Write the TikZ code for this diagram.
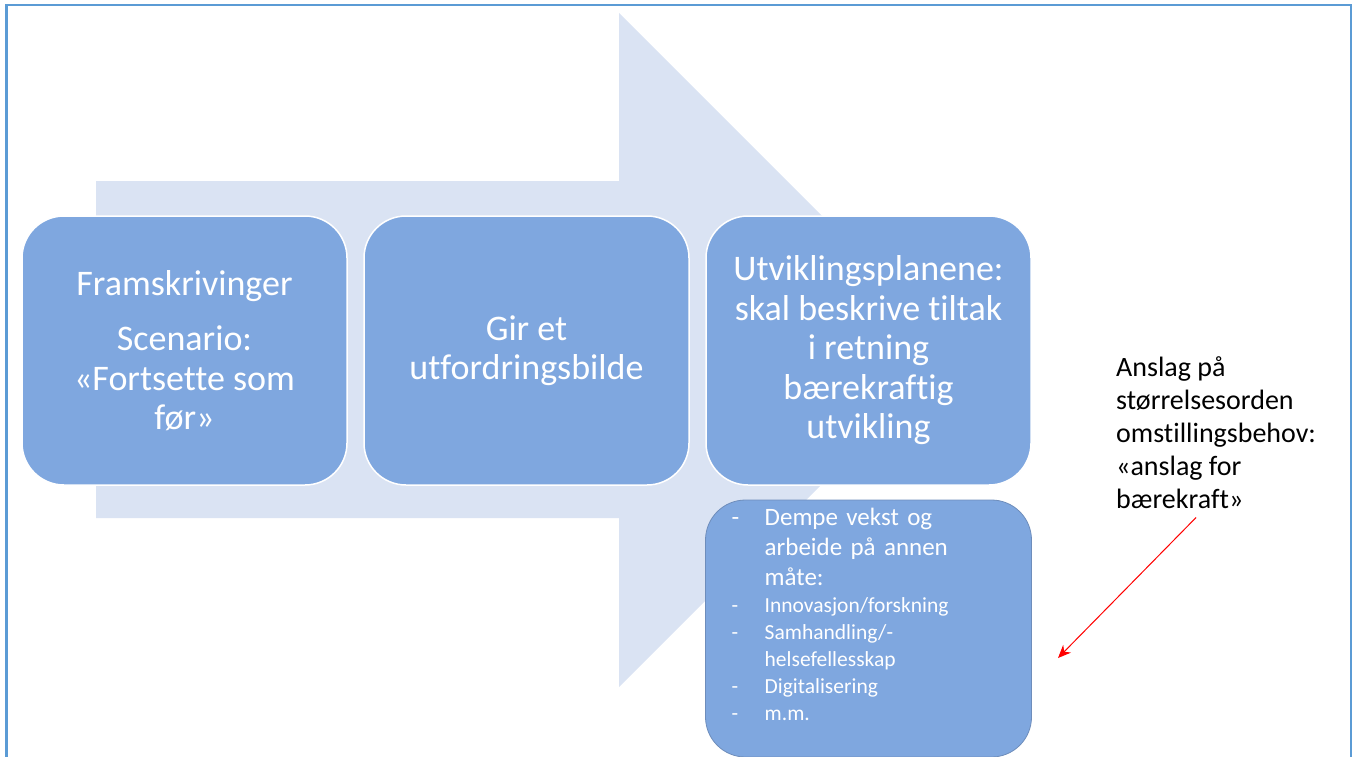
\documentclass[tikz,border=0pt]{standalone}
\usepackage{fontspec}
\setmainfont{Carlito}[Ligatures=NoCommon]
\usepackage{xcolor}
\usepackage{tikz}
\usetikzlibrary{arrows.meta, positioning}

\definecolor{framblue}{HTML}{5B9BD5}
\definecolor{arrowbg}{HTML}{DAE3F3}
\definecolor{boxblue}{HTML}{7FA7DF}
\definecolor{boxedge}{HTML}{6E8DBB}

\newcommand{\dashline}[1]{\par\rightskip=0pt plus 1fil\hangindent=33pt\hangafter=1\noindent\makebox[33pt][l]{-}#1}

\begin{document}
\begin{tikzpicture}[
  x=1pt, y=-1pt,
  stepbox/.style={draw=white, line width=1.5pt, fill=boxblue, rounded corners=42pt, outer sep=0pt,
    minimum width=325pt, minimum height=269pt, text=white, align=center,
    font=\fontsize{36}{39.5}\selectfont},
  listbox/.style={draw=boxedge, line width=0.8pt, fill=boxblue, rounded corners=40pt, outer sep=0pt,
    minimum width=326pt, minimum height=257pt},
  notetext/.style={inner sep=0pt, anchor=north west, align=left, font=\fontsize{28}{33}\selectfont},
  node distance=17pt,
]
\useasboundingbox (0,0) rectangle (1357,757);
\draw[framblue, line width=2.5pt] (6.5,757) |- (1351,5) -- (1351,757);
\fill[arrowbg] (96,181) -- (619,181) -- (619,13) -- (956,350) -- (619,687) -- (619,518) -- (96,518) -- cycle;
\node[stepbox] (scenario) at (184.5,350.5) {Framskrivinger\\[16pt]Scenario:\\«Fortsette som\\før»};
\node[stepbox, right=of scenario] (challenge) {Gir et\\utfordringsbilde};
\node[stepbox, right=of challenge] (plans) {Utviklingsplanene:\\skal beskrive tiltak\\i retning\\bærekraftig\\utvikling};
\node[listbox, below=15pt of plans] (measures) {};
\node[inner sep=0pt, anchor=north west, text width=295pt, align=left, text=white,
  font=\fontsize{25}{30}\selectfont] (measurelist) at ([xshift=26pt, yshift=5pt]measures.north west) {%
  {\dashline{Dempe vekst og\newline arbeide på annen\newline måte:}\par}
  \fontsize{21.5}{27}\selectfont
  \dashline{Innovasjon/forskning}
  \dashline{Samhandling/-\newline helsefellesskap}
  \dashline{Digitalisering}
  \dashline{m.m.}\par};
\node[notetext] (note) at (1116,356) {Anslag på\\størrelsesorden\\omstillingsbehov:\\«anslag for\\bærekraft»};
\coordinate (notetip) at (1058,658);
\draw[red, line width=1pt, -{Stealth[length=13pt, width=11pt]}] ([xshift=-20pt, yshift=-9pt]note.south) -- (notetip);
\end{tikzpicture}
\end{document}
